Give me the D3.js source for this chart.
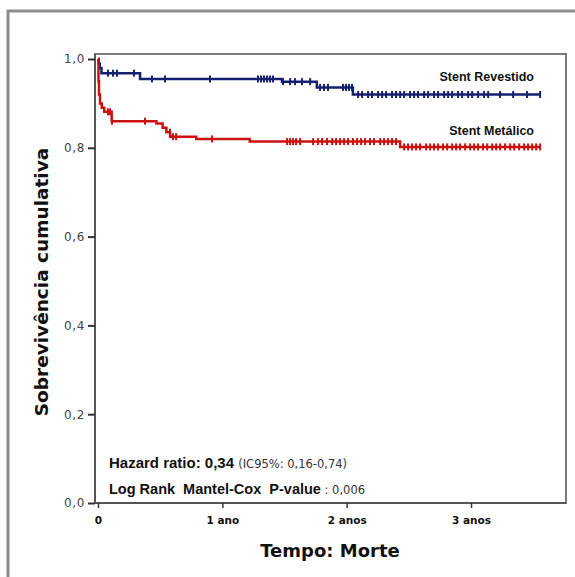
<!DOCTYPE html>
<html>
<head>
<meta charset="utf-8">
<script src="https://cdn.jsdelivr.net/npm/d3@7"></script>
<style>
  body { margin: 0; background: #fff; }
  svg { display: block; }
  text { font-family: "Liberation Sans", Arial, sans-serif; }
</style>
</head>
<body>
<svg width="575" height="577"></svg>
<script>
// survival steps (time in years, cumulative survival)
const revestidoTimes = [0, 0.006, 0.014, 0.028, 0.338, 1.48, 1.76, 2.05, 3.556]
const revestidoSurv  = [1.0, 0.99, 0.98, 0.968, 0.955, 0.949, 0.936, 0.920, 0.920]
const revestidoCensor = [0.080, 0.121, 0.153, 0.290, 0.434, 0.539, 0.901, 1.287, 1.311, 1.335, 1.360,
  1.384, 1.408, 1.488, 1.545, 1.585, 1.641, 1.706, 1.786, 1.818, 1.850, 1.971, 1.995, 2.019, 2.043,
  2.092, 2.124, 2.172, 2.204, 2.253, 2.285, 2.317, 2.365, 2.397, 2.430, 2.462, 2.510, 2.542, 2.574,
  2.623, 2.655, 2.703, 2.735, 2.784, 2.816, 2.848, 2.896, 2.928, 2.977, 3.009, 3.057, 3.105, 3.138,
  3.234, 3.339, 3.451, 3.556]

const metalicoTimes = [0, 0.004, 0.008, 0.016, 0.03, 0.05, 0.11, 0.47, 0.52, 0.55, 0.58, 0.79, 1.22, 2.43, 3.556]
const metalicoSurv  = [1.0, 0.95, 0.92, 0.90, 0.89, 0.881, 0.86, 0.855, 0.845, 0.835, 0.825, 0.82, 0.814, 0.802, 0.802]
const metalicoCensor = [0.080, 0.097, 0.113, 0.378, 0.579, 0.603, 0.628, 0.917, 1.521, 1.545, 1.569,
  1.593, 1.625, 1.730, 1.770, 1.802, 1.842, 1.883, 1.915, 1.947, 1.979, 2.011, 2.051, 2.084, 2.116,
  2.148, 2.188, 2.220, 2.269, 2.301, 2.333, 2.365, 2.397, 2.462, 2.494, 2.526, 2.558, 2.590, 2.639,
  2.671, 2.703, 2.735, 2.775, 2.808, 2.848, 2.880, 2.912, 2.953, 2.993, 3.025, 3.057, 3.097, 3.130,
  3.170, 3.202, 3.234, 3.274, 3.315, 3.347, 3.387, 3.427, 3.459, 3.492, 3.524, 3.556]

const yTicks = [0, 0.2, 0.4, 0.6, 0.8, 1.0]
const xTicks = [0, 1, 2, 3]
const xTickLabels = ['0', '1 ano', '2 anos', '3 anos']

const svg = d3.select('svg')

// scales
const x = d3.scaleLinear().domain([0, 3]).range([98, 471])
const y = d3.scaleLinear().domain([0, 1]).range([503, 59])

// plot box edges
const box = { left: 95, right: 566, top: 54, bottom: 503 }

// outer frame
svg.append('rect')
  .attr('x', 8).attr('y', 11)
  .attr('width', 620).attr('height', 620)
  .attr('fill', 'none')
  .attr('stroke', '#8c8c8c')
  .attr('stroke-width', 3)

// plot box
svg.append('rect')
  .attr('x', box.left).attr('y', box.top)
  .attr('width', box.right - box.left).attr('height', box.bottom - box.top)
  .attr('fill', '#fff')
  .attr('stroke', '#7a7a7a')
  .attr('stroke-width', 2)

// left + bottom axis lines a bit darker
svg.append('path')
  .attr('d', `M${box.left},${box.top}V${box.bottom}H${box.right}`)
  .attr('fill', 'none')
  .attr('stroke', '#555')
  .attr('stroke-width', 2)

// y axis
const yAxis = d3.axisLeft(y)
  .tickValues(yTicks)
  .tickSize(7)
  .tickPadding(3)
  .tickFormat(d => d3.format('.1f')(d).replace('.', ','))

const yG = svg.append('g')
  .attr('transform', `translate(${box.left},0)`)
  .call(yAxis)
yG.select('.domain').remove()
yG.selectAll('.tick line').attr('stroke', '#333').attr('stroke-width', 2)
yG.selectAll('.tick text')
  .attr('fill', '#444')
  .style('font-family', '"DejaVu Sans", sans-serif')
  .style('font-size', '12px')
  .style('letter-spacing', '0.6px')

// x axis
const xAxis = d3.axisBottom(x)
  .tickValues(xTicks)
  .tickSize(5)
  .tickPadding(9)
  .tickFormat((d, i) => xTickLabels[i])

const xG = svg.append('g')
  .attr('transform', `translate(0,${box.bottom})`)
  .call(xAxis)
xG.select('.domain').remove()
xG.selectAll('.tick line').attr('stroke', '#333').attr('stroke-width', 1.5)
xG.selectAll('.tick text')
  .attr('fill', '#111')
  .style('font-family', '"DejaVu Sans", sans-serif')
  .style('font-weight', 'bold')
  .style('font-size', '10.5px')

// survival curves
const series = [
  { name: 'Stent Revestido', times: revestidoTimes, surv: revestidoSurv, censor: revestidoCensor, color: '#15206f', labelY: 81 },
  { name: 'Stent Metálico', times: metalicoTimes, surv: metalicoSurv, censor: metalicoCensor, color: '#cc1111', labelY: 135 }
]

const stepLine = d3.line()
  .x(d => x(d[0]))
  .y(d => y(d[1]))
  .curve(d3.curveStepAfter)

// survival value at a given time (for censor marks)
const survAt = (s, t) => {
  let v = s.surv[0]
  s.times.forEach((tt, i) => { if (tt <= t) v = s.surv[i] })
  return v
}

series.forEach(s => {
  const pts = s.times.map((t, i) => [t, s.surv[i]])
  svg.append('path')
    .datum(pts)
    .attr('d', stepLine)
    .attr('fill', 'none')
    .attr('stroke', s.color)
    .attr('stroke-width', 2.5)

  svg.selectAll(null)
    .data(s.censor)
    .enter()
    .append('line')
    .attr('x1', d => x(d)).attr('x2', d => x(d))
    .attr('y1', d => y(survAt(s, d)) - 3.5)
    .attr('y2', d => y(survAt(s, d)) + 3.5)
    .attr('stroke', s.color)
    .attr('stroke-width', 2)

  svg.append('text')
    .attr('x', 534)
    .attr('y', s.labelY)
    .attr('text-anchor', 'end')
    .style('font-weight', 'bold')
    .style('font-size', '12.5px')
    .attr('fill', '#111')
    .text(s.name)
})

// statistics text
const hr = svg.append('text')
  .attr('x', 109).attr('y', 468)
  .attr('fill', '#111')
  .style('font-size', '15px')
hr.append('tspan').style('font-weight', 'bold').text('Hazard ratio: 0,34 ')
hr.append('tspan')
  .style('font-family', '"DejaVu Sans", sans-serif')
  .style('font-size', '11.5px')
  .attr('fill', '#333')
  .text('(IC95%: 0,16-0,74)')

const lr = svg.append('text')
  .attr('x', 109).attr('y', 494)
  .attr('fill', '#111')
  .style('font-size', '14.5px')
  .style('white-space', 'pre')
lr.append('tspan').style('font-weight', 'bold').text('Log Rank  Mantel-Cox  P-value')
lr.append('tspan')
  .style('font-family', '"DejaVu Sans", sans-serif')
  .style('font-size', '11.5px')
  .attr('fill', '#333')
  .text(' : 0,006')

// axis titles
svg.append('text')
  .attr('transform', 'translate(48,282) rotate(-90)')
  .attr('text-anchor', 'middle')
  .style('font-family', '"DejaVu Sans", sans-serif')
  .style('font-weight', 'bold')
  .style('font-size', '18.5px')
  .attr('fill', '#111')
  .text('Sobrevivência cumulativa')

svg.append('text')
  .attr('x', 330).attr('y', 557)
  .attr('text-anchor', 'middle')
  .style('font-family', '"DejaVu Sans", sans-serif')
  .style('font-weight', 'bold')
  .style('font-size', '18px')
  .attr('fill', '#111')
  .text('Tempo: Morte')
</script>
</body>
</html>
